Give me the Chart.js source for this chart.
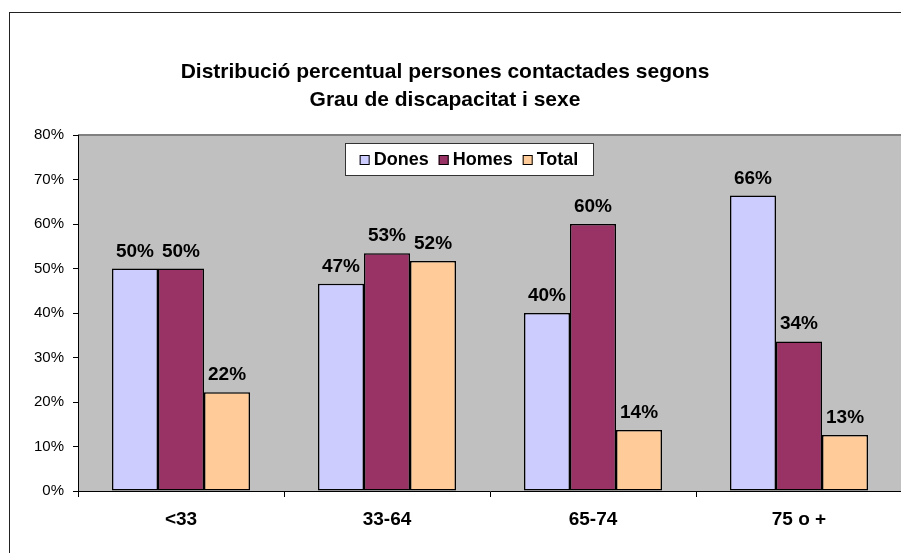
<!DOCTYPE html>
<html>
<head>
<meta charset="utf-8">
<script src="https://cdn.jsdelivr.net/npm/chart.js@4"></script>
<style>
html, body { margin: 0; padding: 0; background: #fff; overflow: hidden; }
#wrap { width: 920px; height: 553px; }
</style>
</head>
<body>
<div id="wrap"><canvas id="barchart" width="920" height="553"></canvas></div>
<script>
const categories = ['<33', '33-64', '65-74', '75 o +'];
const dones = [50, 46.6, 40, 66.4];
const homes = [50, 53.4, 60, 33.6];
const total = [22.2, 51.7, 13.7, 12.6];
const titleLines = ['Distribució percentual persones contactades segons', 'Grau de discapacitat i sexe'];

const FONT = '"Liberation Sans", Arial, sans-serif';

// background, frame, plot area, title, legend and value labels
const excelLook = {
    id: 'excelLook',
    beforeDraw(chart) {
        const c = chart.ctx, a = chart.chartArea;
        c.save();
        c.fillStyle = '#fff';
        c.fillRect(0, 0, chart.width, chart.height);
        c.strokeStyle = '#222';
        c.lineWidth = 1;
        c.strokeRect(9.5, 12.5, 1000, 1000);
        c.fillStyle = '#c0c0c0';
        c.fillRect(a.left, a.top, a.right - a.left, a.bottom - a.top);
        c.strokeStyle = '#808080';
        c.lineWidth = 2;
        c.beginPath();
        c.moveTo(a.left, a.top);
        c.lineTo(a.right, a.top);
        c.stroke();
        c.restore();
    },
    afterDatasetsDraw(chart) {
        const c = chart.ctx;
        c.save();
        c.fillStyle = '#000';
        c.font = 'bold 19px ' + FONT;
        c.textAlign = 'center';
        c.textBaseline = 'alphabetic';
        chart.data.datasets.forEach((ds, i) => {
            chart.getDatasetMeta(i).data.forEach((bar, j) => {
                c.fillText(Math.round(ds.data[j]) + '%', bar.x, bar.y - 12);
            });
        });
        c.restore();
    },
    afterDraw(chart) {
        const c = chart.ctx;
        c.save();
        c.fillStyle = '#000';
        c.font = 'bold 21px ' + FONT;
        c.textAlign = 'center';
        c.textBaseline = 'middle';
        c.fillText(titleLines[0], 445, 72);
        c.fillText(titleLines[1], 445, 100);

        // legend box
        const bx = 345, by = 143, bw = 248, bh = 32;
        c.fillStyle = '#fff';
        c.fillRect(bx, by, bw, bh);
        c.strokeStyle = '#333';
        c.lineWidth = 1;
        c.strokeRect(bx + 0.5, by + 0.5, bw, bh);
        c.font = 'bold 18px ' + FONT;
        c.textAlign = 'left';
        const items = chart.data.datasets.map(ds => ({ label: ds.label, color: ds.backgroundColor, w: 14 + c.measureText(ds.label).width }));
        const gap = 10;
        const totalW = items.reduce((s, it) => s + it.w, 0) + gap * (items.length - 1);
        let x = bx + (bw - totalW) / 2;
        const cy = by + bh / 2 + 1;
        items.forEach(it => {
            c.fillStyle = it.color;
            c.fillRect(x, cy - 5, 10, 10);
            c.strokeStyle = '#000';
            c.strokeRect(x + 0.5, cy - 4.5, 9, 9);
            c.fillStyle = '#000';
            c.fillText(it.label, x + 14, cy);
            x += it.w + gap;
        });
        c.restore();
    }
};

const ctx = document.getElementById('barchart');

new Chart(ctx, {
    type: 'bar',
    data: {
        labels: categories,
        datasets: [
            { label: 'Dones', data: dones, backgroundColor: '#ccccff' },
            { label: 'Homes', data: homes, backgroundColor: '#993366' },
            { label: 'Total', data: total, backgroundColor: '#ffcc99' }
        ].map(ds => Object.assign(ds, {
            borderColor: '#000',
            borderWidth: 1.5,
            borderSkipped: false,
            categoryPercentage: 0.67,
            barPercentage: 1.0
        }))
    },
    options: {
        responsive: false,
        animation: false,
        layout: { padding: { top: 135, right: 18, left: 0, bottom: 0 } },
        plugins: {
            legend: { display: false },
            title: { display: false },
            tooltip: { enabled: false }
        },
        scales: {
            x: {
                ticks: { color: '#000', font: { family: FONT, size: 19, weight: 'bold' }, padding: 11 },
                grid: { offset: true, drawOnChartArea: false, tickLength: 6, tickColor: '#000' },
                border: { color: '#000', width: 1 },
                afterFit: s => { s.height = 62; }
            },
            y: {
                min: 0,
                max: 80,
                ticks: { stepSize: 10, callback: v => v + '%', color: '#000', font: { family: FONT, size: 15 }, padding: 9 },
                grid: { drawOnChartArea: false, tickLength: 5, tickColor: '#000' },
                border: { color: '#000', width: 1 },
                afterFit: s => { s.width = 78; }
            }
        }
    },
    plugins: [excelLook]
});
</script>
</body>
</html>
